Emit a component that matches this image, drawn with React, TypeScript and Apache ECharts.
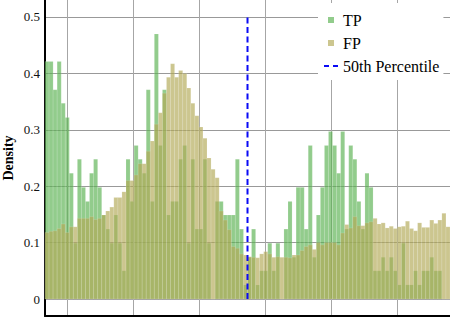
import React, { useEffect, useRef } from "react";
import * as echarts from "echarts";

// Histogram bins (100 bins) — x in axis units where the vertical grid lines sit at integers
const binStart = -1 / 3;
const binWidth = 0.061364;
const median = 2.735;

const tpDensity = [
  0.421, 0.421, 0.371, 0.421, 0.347, 0.322, 0.223, 0.099, 0.248, 0.198,
  0.173, 0.223, 0.248, 0.198, 0.149, 0.124, 0.099, 0.149, 0.099, 0.05,
  0.248, 0.173, 0.272, 0.248, 0.223, 0.371, 0.173, 0.47, 0.272, 0.371,
  0.149, 0.173, 0.173, 0.248, 0.272, 0.099, 0.248, 0.124, 0.124, 0.248,
  0.099, 0.0, 0.173, 0.173, 0.149, 0.149, 0.149, 0.248, 0.124, 0.025,
  0.074, 0.124, 0.025, 0.05, 0.05, 0.099, 0.05, 0.099, 0.0, 0.124,
  0.173, 0.074, 0.198, 0.198, 0.124, 0.272, 0.074, 0.149, 0.198, 0.272,
  0.297, 0.272, 0.223, 0.297, 0.124, 0.272, 0.248, 0.173, 0.124, 0.223,
  0.198, 0.05, 0.05, 0.074, 0.05, 0.074, 0.05, 0.025, 0.099, 0.025,
  0.025, 0.05, 0.025, 0.05, 0.05, 0.074, 0.05, 0.05, 0.0, 0.0,
];

const fpDensity = [
  0.118, 0.12, 0.121, 0.125, 0.133, 0.118, 0.128, 0.128, 0.143, 0.143,
  0.143, 0.146, 0.141, 0.143, 0.149, 0.156, 0.163, 0.18, 0.18, 0.19,
  0.21, 0.21, 0.22, 0.24, 0.24, 0.262, 0.28, 0.31, 0.33, 0.365,
  0.393, 0.417, 0.393, 0.405, 0.4, 0.374, 0.347, 0.325, 0.305, 0.285,
  0.25, 0.23, 0.215, 0.156, 0.14, 0.123, 0.093, 0.09, 0.08, 0.078,
  0.075, 0.074, 0.073, 0.08, 0.084, 0.08, 0.074, 0.075, 0.074, 0.074,
  0.073, 0.078, 0.078, 0.086, 0.093, 0.096, 0.088, 0.1, 0.096, 0.1,
  0.1, 0.1, 0.096, 0.117, 0.132, 0.126, 0.146, 0.13, 0.13, 0.135,
  0.137, 0.143, 0.133, 0.135, 0.126, 0.129, 0.125, 0.128, 0.129, 0.138,
  0.125, 0.121, 0.135, 0.127, 0.127, 0.14, 0.134, 0.14, 0.152, 0.128,
];

const yTop = 0.5;

const FONT = "Liberation Serif";
const TP_COLOR = "rgba(90,178,81,0.66)";
const FP_COLOR = "rgba(178,169,85,0.66)";
const LINE_COLOR = "#0a0af5";

const toBins = (vals: number[]) =>
  vals.map((v, i) => [binStart + i * binWidth, binStart + (i + 1) * binWidth, v]);

const makeRender = (color: string) => (params: any, api: any) => {
  const x0 = api.value(0);
  const x1 = api.value(1);
  const y = api.value(2);
  const p0 = api.coord([x0, y]);
  const p1 = api.coord([x1, 0]);
  return {
    type: "rect",
    shape: { x: p0[0], y: p0[1], width: p1[0] - p0[0], height: p1[1] - p0[1] },
    style: { fill: color, stroke: "rgba(255,255,255,0.25)", lineWidth: 0.5 },
  };
};

const SQ = "path://M0,0h1v1h-1z";
const DASH = "path://M0,0h5v2h-5zM9,0h5v2h-5z";

export default function App() {
  const ref = useRef<HTMLDivElement>(null);
  useEffect(() => {
    if (!ref.current) return;
    const chart = echarts.init(ref.current, undefined, { renderer: "svg" });
    chart.setOption({
      animation: false,
      backgroundColor: "#fff",
      grid: { left: 45, right: 0, top: 0, bottom: 2, containLabel: false, outerBoundsMode: "none" },
      legend: {
        orient: "vertical",
        left: 318,
        top: 3,
        padding: [8, 4, 5, 6],
        itemWidth: 14,
        itemHeight: 6,
        itemGap: 5,
        selectedMode: false,
        backgroundColor: "#fff",
        textStyle: { fontFamily: FONT, fontSize: 16, color: "#000", lineHeight: 18 },
        data: [
          { name: "TP", icon: SQ },
          { name: "FP", icon: SQ },
          { name: "50th Percentile", icon: DASH },
        ],
      },
      xAxis: {
        type: "value",
        min: binStart,
        max: binStart + 100 * binWidth,
        axisLine: { show: true, onZero: false, lineStyle: { color: "#000", width: 2 } },
        axisTick: { show: false },
        axisLabel: { show: false },
        splitLine: {
          show: true,
          showMinLine: false,
          showMaxLine: false,
          lineStyle: { color: "#a6a6a6", width: 1 },
        },
      },
      yAxis: {
        type: "value",
        min: -0.0301,
        max: 0.5301,
        name: "Density",
        nameLocation: "middle",
        nameGap: 30,
        nameMoveOverlap: false,
        nameTextStyle: { fontFamily: FONT, fontWeight: "bold", fontSize: 14, color: "#000" },
        axisLine: { show: true, onZero: false, lineStyle: { color: "#000", width: 2 } },
        axisTick: { show: false },
        axisLabel: {
          fontFamily: FONT,
          fontSize: 13,
          color: "#111",
          margin: 5,
          showMinLabel: false,
          showMaxLabel: false,
        },
        splitLine: {
          show: true,
          showMinLine: false,
          showMaxLine: false,
          lineStyle: { color: "#999", width: 1 },
        },
      },
      series: [
        {
          name: "TP",
          type: "custom",
          renderItem: makeRender(TP_COLOR),
          itemStyle: { color: TP_COLOR },
          encode: { x: [0, 1], y: 2 },
          data: toBins(tpDensity),
          z: 2,
        },
        {
          name: "FP",
          type: "custom",
          renderItem: makeRender(FP_COLOR),
          itemStyle: { color: FP_COLOR },
          encode: { x: [0, 1], y: 2 },
          data: toBins(fpDensity),
          z: 3,
        },
        {
          name: "50th Percentile",
          type: "line",
          symbol: "none",
          data: [
            [median, 0],
            [median, yTop],
          ],
          itemStyle: { color: LINE_COLOR },
          lineStyle: { color: LINE_COLOR, width: 2, type: [6, 3.5] },
          z: 5,
        },
      ],
    });
    return () => chart.dispose();
  }, []);
  return <div ref={ref} style={{ width: 450, height: 318, position: "fixed", left: 0, top: 0 }} />;
}
